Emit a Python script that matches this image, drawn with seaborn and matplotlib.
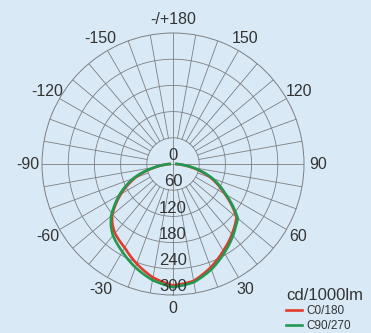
import numpy as np
import pandas as pd
import matplotlib
matplotlib.use("Agg")
import matplotlib.pyplot as plt
import seaborn as sns

plt.rcParams['font.family'] = ['Liberation Sans', 'DejaVu Sans']

# gamma angles (deg), 0 = straight down, + towards the 90 side
angles = [-90, -85, -80, -70, -60, -55, -50, -45, -40, -30, -20, -10, 0,
          10, 20, 30, 40, 45, 50, 55, 60, 70, 80, 85, 90]
# intensity cd/1000lm
c0_180 = [8, 20, 40, 92, 138, 160, 182, 196, 207, 221, 243, 264, 278,
          272, 252, 230, 210, 200, 190, 164, 137, 92, 42, 20, 8]
c90_270 = [8, 22, 42, 97, 142, 163, 185, 201, 214, 232, 252, 270, 282,
           275, 257, 235, 214, 203, 194, 167, 140, 96, 46, 22, 8]
series_names = ["C0/180", "C90/270"]
series_colors = ["#e53a2b", "#1f9a50"]

ring_values = [60, 120, 180, 240, 300]
ring_labels = ["0", "60", "120", "180", "240", "300"]
angle_ticks = [0, 30, 60, 90, 120, 150, 180, -150, -120, -90, -60, -30]
angle_labels = ["0", "30", "60", "90", "120", "150", "-/+180",
                "-150", "-120", "-90", "-60", "-30"]

bg = "#d9eaf6"
grid_c = "#7d7f82"
text_c = "#333333"

df = pd.concat([
    pd.DataFrame({"theta": np.deg2rad(angles), "cd": c0_180, "curve": series_names[0]}),
    pd.DataFrame({"theta": np.deg2rad(angles), "cd": c90_270, "curve": series_names[1]}),
])

fig = plt.figure(figsize=(3.71, 3.33), dpi=100, facecolor=bg)
ax = fig.add_axes([0.1132, 0.1141, 0.7062, 0.7868], projection="polar")
ax.set_facecolor("none")
ax.set_theta_zero_location("S")
ax.set_theta_direction(1)
ax.set_rlim(0, 300)
ax.set_xticks([])
ax.set_yticks([])
ax.grid(False)
ax.spines["polar"].set_color(grid_c)
ax.spines["polar"].set_linewidth(0.7)

# grid: rings and 10 degree spokes starting at the 60 ring
t = np.linspace(0, 2 * np.pi, 361)
for r in ring_values[:-1]:
    ax.plot(t, np.full_like(t, r), color=grid_c, lw=0.6, zorder=1)
for a in range(0, 360, 10):
    r0 = 0 if a % 90 == 0 else 60
    ax.plot([np.deg2rad(a)] * 2, [r0, 300], color=grid_c, lw=0.6, zorder=1)

n_grid = len(ax.lines)
sns.lineplot(data=df, x="theta", y="cd", hue="curve", hue_order=series_names,
             palette=series_colors, sort=False, lw=1.9, ax=ax, zorder=3)
# follow the polar geometry between points instead of straight chords
for line in ax.lines[n_grid:]:
    line.get_path()._interpolation_steps = 40
ax.set_xlabel("")
ax.set_ylabel("")
ax.set_rlim(0, 300)

# radial value labels along the 0 direction
for r, lab in zip([0] + ring_values, ring_labels):
    ax.annotate(lab, xy=(0, r), xytext=(0, 6), textcoords="offset points",
                ha="center", va="center", fontsize=12, color=text_c, zorder=4)

for a, lab in zip(angle_ticks, angle_labels):
    ax.text(np.deg2rad(a), 332, lab, ha="center", va="center",
            fontsize=11.5, color=text_c, clip_on=False)

ax.get_legend().remove()
handles, labels = ax.get_legend_handles_labels()
leg = fig.legend(handles, labels, title="cd/1000lm", loc="upper left",
                 bbox_to_anchor=(0.772, 0.135), frameon=False, fontsize=8.5,
                 title_fontsize=12, handlelength=1.3, handletextpad=0.35,
                 borderpad=0, borderaxespad=0, labelspacing=0.2,
                 alignment="left")
for txt in leg.get_texts():
    txt.set_color(text_c)
leg.get_title().set_color(text_c)

fig.savefig("out.png", dpi=100, facecolor=bg)
